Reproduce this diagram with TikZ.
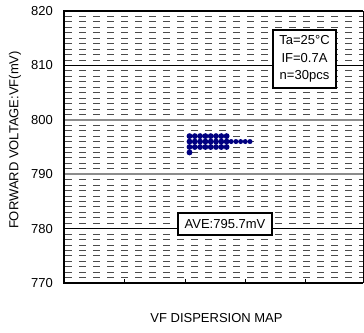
\documentclass[tikz,border=0pt]{standalone}
\usepackage{fontspec}
\setmainfont{Liberation Sans}
\usepackage{tikz}
\tikzset{
	minorgrid/.style={line width=0.8pt, color=black!70, dash pattern=on 6.7pt off 7.3pt, dash phase=-1pt},
	majorgrid/.style={line width=0.9pt, color=black},
	graygrid/.style={line width=1.8pt, color=black!45},
	frameline/.style={line width=1.8pt, color=black},
	vfdot/.style={fill=vfblue},
	ticklabel/.style={anchor=east, font=\fontsize{13}{15}\selectfont, inner sep=0pt},
	labelbox/.style={draw, line width=1.2pt, fill=white, font=\fontsize{13}{17.5}\selectfont, align=center}
}
\definecolor{vfblue}{RGB}{0,0,128}

\begin{document}
\begin{tikzpicture}[x=1pt, y=5.44pt]
			%%%%% START %%%%%
			\useasboundingbox (0pt,-49pt) rectangle (364pt,283pt);
			
			% dashed lines, one per mV
			\foreach \d in {0,10,20,30,40}
				\foreach \u in {1,...,9}
					\draw[minorgrid] (64,\d+\u) -- (363,\d+\u);
			
			\draw[majorgrid] (64,40) -- (363,40);
			\draw[graygrid] (64,30) -- (363,30);
			\draw[graygrid] (64,20) -- (363,20);
			\draw[majorgrid] (64,10) -- (363,10);
			
			\draw[frameline] (363,50) -- (64,50) -- (64,0) -- (363,0);
			\draw[line width=0.6pt] (363,0) -- (363,50);
			\foreach \x in {124.5,185,245,305}
				\draw[line width=0.9pt] (\x,0) -- ++(0pt,4pt);
			
			% tick labels
			\foreach \v in {770,780,...,820}
				\node[ticklabel] (lbl\v) at (53,\v-770) {\v};
			
			% the 30 pieces
			\foreach \v/\n in {797/8,796/8,795/8,794/1}
				\foreach \i in {1,...,\n}
					\fill[vfdot] ({184.2+5.3*\i},\v-770) circle (2.95pt);
			\foreach \i in {1,...,5}
				\fill[vfdot] ({226.5+4.7*\i},26) circle (2.5pt);
			
			\node[labelbox, minimum width=63pt, minimum height=58pt, inner sep=2pt] (cond) at (304.5,{(273-49)/5.44}) {Ta=25°C\\IF=0.7A\\n=30pcs};
			\node[labelbox, minimum width=94pt, minimum height=22pt, inner sep=2pt] (ave) at (225,{(108-49)/5.44}) {AVE:795.7mV};
			
			\node[font=\fontsize{13}{15}\selectfont] (xlabel) at (216.5,{(14-49)/5.44}) {VF DISPERSION MAP};
			\node[font=\fontsize{13}{15}\selectfont, rotate=90] (ylabel) at (15,{(192-49)/5.44}) {FORWARD VOLTAGE:VF(mV)};
			%%%%% END %%%%%
\end{tikzpicture}
\end{document}
